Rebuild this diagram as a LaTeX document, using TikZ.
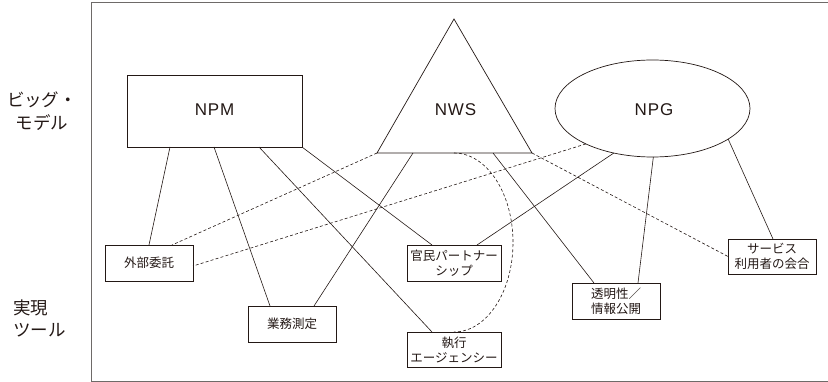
\documentclass[tikz,border=0pt]{standalone}
\usepackage{fontspec}
\setmainfont{Liberation Sans}
\newfontfamily\bigfont[LetterSpace=5]{Liberation Sans}
\newfontfamily\jp{Noto Sans CJK JP}
\usetikzlibrary{shapes.geometric}
\definecolor{ink}{HTML}{231815}
\definecolor{framecol}{HTML}{6E6A68}
\tikzset{
  conn/.style={draw=ink, line width=0.6pt},
  dconn/.style={draw=ink, line width=0.6pt, dash pattern=on 3pt off 2.2pt},
  toolbox/.style={draw=ink, line width=0.8pt, rectangle, inner sep=0pt, outer sep=0pt,
    minimum width=88pt, minimum height=36pt, align=center, text=ink,
    font=\jp\fontsize{12.5pt}{15pt}\selectfont},
  bigtext/.style={text=ink, font=\bigfont\fontsize{17pt}{19pt}\selectfont},
  sidelabel/.style={text=ink, inner sep=0pt, font=\jp\fontsize{17.5pt}{22.5pt}\selectfont}
}
\begin{document}
\begin{tikzpicture}[x=1pt,y=-1pt]
\useasboundingbox (0,0) rectangle (828,382);
% frame
\draw[framecol, line width=0.9pt] (828,2) -- (91,2) -- (91,381) -- (828,381);
% side labels
\node[sidelabel, align=center] (big) at (42,111) {ビッグ・\\モデル};
\node[sidelabel, align=left, anchor=west] (tool) at (13,318.5) {実現\\ツール};
% big models
\node[draw=ink, line width=0.8pt, rectangle, inner sep=0pt, outer sep=0pt,
      minimum width=175pt, minimum height=72pt] (NPM) at (214.5,111) {};
\node[bigtext] (NPMt) at (214.5,110) {NPM};
\coordinate (nwsA) at (454,19);
\coordinate (nwsL) at (377,153);
\coordinate (nwsR) at (532,153);
\coordinate (nwsB) at (454,153);
\draw[ink, line width=0.7pt, line join=miter] (nwsA) -- (nwsL) -- (nwsR) -- cycle;
\node[bigtext] (NWS) at (455.5,110) {NWS};
\node[draw=ink, line width=0.7pt, ellipse, inner sep=0pt, outer sep=0pt,
      minimum width=195pt, minimum height=97pt] (NPG) at (652.5,108.5) {};
\node[bigtext] (NPGt) at (654,110) {NPG};
% tools
\node[toolbox] (gaibu) at (149,263) {外部委託};
\node[toolbox] (gyomu) at (292,324) {業務測定};
\node[toolbox, minimum width=94pt] (kanmin) at (454,263) {官民パートナー\\シップ};
\node[toolbox, minimum width=94pt, minimum height=35pt] (shikko) at (454,349.5) {執行\\エージェンシー};
\node[toolbox] (tomei) at (616,301) {透明性／\\情報公開};
\node[toolbox, minimum height=35pt] (service) at (772,256.5) {サービス\\利用者の会合};
% solid connectors
\draw[conn] (NPM.south -| 170,0) -- (gaibu.north);
\draw[conn] (NPM.south -| 214,0) -- (gyomu.north -| 270,0);
\draw[conn] (NPM.south -| 259,0) -- (shikko.north -| 432,0);
\draw[conn] (NPM.south east) -- (kanmin.north -| 432,0);
\draw[conn] (nwsL -| 413,0) -- (gyomu.north -| 314,0);
\draw[conn] (nwsL -| 493,0) -- (tomei.north -| 594,0);
\draw[conn] (NPG.229.7) -- (kanmin.north -| 477,0);
\draw[conn] (NPG.271) -- (tomei.north -| 638,0);
\draw[conn] (NPG.338.7) -- (service.north -| 773,0);
% dashed connectors
\draw[dconn] (nwsL) -- (gaibu.north -| 172,0);
\draw[dconn] (NPG.208.2) -- (gaibu.east |- 0,266);
\draw[dconn] (nwsR) -- (service.west);
\draw[dconn] (nwsB) arc[start angle=-90, end angle=90, x radius=59, y radius=89.5];
\end{tikzpicture}
\end{document}
